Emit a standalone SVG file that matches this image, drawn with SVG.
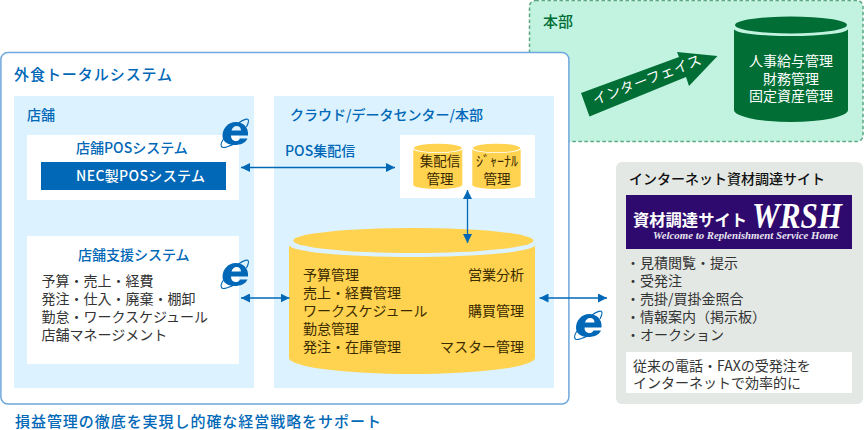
<svg xmlns="http://www.w3.org/2000/svg" width="864" height="430" viewBox="0 0 864 430">
<style>
text{font-family:"Noto Sans CJK JP","Noto Sans",sans-serif;font-size:14px;fill:#333}
.h{font-weight:500;fill:#0068b7}
.t{font-size:15px;letter-spacing:.95px}
.y{fill:#ffd24f}
.d{fill:#3a2a00}
.sm{font-size:13.5px}
.w{fill:#fff}
line{stroke:#0068b7;stroke-width:1.3}
</style>
<defs>
<marker id="a" viewBox="0 0 9 9" refX="9" refY="4.5" markerUnits="userSpaceOnUse" markerWidth="9" markerHeight="9" orient="auto-start-reverse"><path d="M0 0L9 4.5L0 9Z" fill="#0068b7"/></marker>
<g id="ie">
<path fill="#0068b7" fill-rule="evenodd" d="M27.5 17.5C28.5 9 22 4 15.5 4C7 4 2 11 2 18C2 24 8 27 14 27C20 27 25 25 27 20.5H19.5C18.5 22.5 17 23 15.5 23C12 23 10.5 20.5 10.5 17.5ZM11 12.5C12 9.5 13.5 8 16 8C19 8 20.5 10 20.5 12.5Z"/>
<path fill="none" stroke="#0068b7" stroke-width="1.1" d="M3 21C-1 27 0 31 6 29C9 28 12 27 14 25.5M18 5C23 1.5 28 -0.5 28 3C28 5 27 7 26 9"/>
</g>
</defs>

<g id="hq">
<rect x="529.5" y="0.5" width="333.5" height="141" rx="6" fill="#c2f3e1" stroke="#5ba882" stroke-width="1.5" stroke-dasharray="3.5 2.5"/>
<text x="543" y="27" style="fill:#006e35;font-weight:500;font-size:15px">本部</text>
<path fill="#006e35" d="M581 93L679 57L677 52L717.5 56L689 86L686 77L589.5 116.5Z"/>
<text class="w" transform="translate(595 105) rotate(-21)" style="letter-spacing:.6px">インターフェイス</text>
<path fill="#006e35" d="M734 29A57 7 0 0 0 848 29V110A57 12 0 0 1 734 110Z"/>
<ellipse cx="791" cy="25" rx="56" ry="8.5" fill="#006e35"/>
<text class="w" text-anchor="middle" x="791" y="65.5">人事給与管理</text>
<text class="w" text-anchor="middle" x="791" y="83.5">財務管理</text>
<text class="w" text-anchor="middle" x="791" y="101">固定資産管理</text>
</g>

<g id="total">
<rect x="0.9" y="52.5" width="568" height="351.5" rx="7" fill="#fff" stroke="#6ea8dc" stroke-width="1.5"/>
<text class="h t" x="14" y="80">外食トータルシステム</text>
<text class="h t" x="15" y="427">損益管理の徹底を実現し的確な経営戦略をサポート</text>
</g>

<g id="store">
<rect x="14" y="96" width="240" height="292" fill="#dcf2fe"/>
<text class="h" x="27" y="120">店舗</text>
</g>
<g id="pos">
<rect x="27" y="135" width="212" height="65" fill="#fff"/>
<text class="h" x="76" y="153">店舗POSシステム</text>
<rect x="41" y="162" width="185" height="28" fill="#0068b7"/>
<text class="w" x="76" y="181" style="font-weight:500;letter-spacing:.35px">NEC製POSシステム</text>
</g>
<g id="support">
<rect x="27" y="236" width="212" height="128" fill="#fff"/>
<text class="h" x="78" y="260">店舗支援システム</text>
<text x="41.5" y="286">予算・売上・経費</text>
<text x="41.5" y="304">発注・仕入・廃棄・棚卸</text>
<text x="41.5" y="322">勤怠・ワークスケジュール</text>
<text x="41.5" y="340">店舗マネージメント</text>
</g>
<g id="cloud">
<rect x="274" y="96" width="280" height="292" fill="#dcf2fe"/>
<text class="h" x="290" y="120">クラウド/データセンター/本部</text>
<text class="h" x="285" y="156">POS集配信</text>
</g>
<g id="small">
<rect x="400" y="135" width="135" height="63" fill="#fff"/>
<path class="y" d="M413.3 149A24.5 4 0 0 0 462.3 149V185A24.5 4 0 0 1 413.3 185Z"/>
<ellipse class="y" cx="437.8" cy="148" rx="24" ry="4.2"/>
<text class="d sm" text-anchor="middle" x="440" y="166">集配信</text>
<text class="d sm" text-anchor="middle" x="440" y="184">管理</text>
<path class="y" d="M472.3 149A24.2 4 0 0 0 520.7 149V185A24.2 4 0 0 1 472.3 185Z"/>
<ellipse class="y" cx="496.5" cy="148" rx="23.7" ry="4.2"/>
<text class="d" text-anchor="middle" x="497" y="166">ｼﾞｬｰﾅﾙ</text>
<text class="d sm" text-anchor="middle" x="497" y="184">管理</text>
</g>
<g id="db">
<path class="y" d="M289 245A123 12 0 0 0 535 245V358A123 16 0 0 1 289 358Z"/>
<ellipse class="y" cx="413.3" cy="240.5" rx="120" ry="12.5"/>
<text class="d" x="303" y="280">予算管理</text>
<text class="d" x="303" y="298">売上・経費管理</text>
<text class="d" x="303" y="316">ワークスケジュール</text>
<text class="d" x="303" y="334">勤怠管理</text>
<text class="d" x="303" y="352">発注・在庫管理</text>
<text class="d" text-anchor="end" x="524" y="280">営業分析</text>
<text class="d" text-anchor="end" x="524" y="316">購買管理</text>
<text class="d" text-anchor="end" x="524" y="352">マスター管理</text>
</g>
<g id="site">
<rect x="616" y="162" width="247" height="242" rx="6" fill="#e3e8e4"/>
<text x="629" y="184" style="fill:#111;font-weight:500">インターネット資材調達サイト</text>
<rect x="626" y="195" width="226" height="54" fill="#2e0a6e"/>
<text class="w" x="633" y="226" style="font-weight:700;font-size:16.3px">資材調達サイト</text>
<text class="w" x="752" y="228" textLength="90" lengthAdjust="spacingAndGlyphs" style="font-family:'Liberation Serif',serif;font-weight:700;font-style:italic;font-size:35px">WRSH</text>
<text x="653" y="238.5" textLength="185" lengthAdjust="spacingAndGlyphs" style="fill:#e8e4f0;font-family:'Liberation Serif',serif;font-weight:700;font-style:italic;font-size:11px">Welcome to Replenishment Service Home</text>
<text x="626" y="268">・見積閲覧・提示</text>
<text x="626" y="286">・受発注</text>
<text x="626" y="304">・売掛/買掛金照合</text>
<text x="626" y="322">・情報案内（掲示板）</text>
<text x="626" y="340">・オークション</text>
<rect x="626" y="352" width="226" height="41" fill="#fff"/>
<text x="633" y="371">従来の電話・FAXの受発注を</text>
<text x="633" y="388">インターネットで効率的に</text>
</g>
<g id="connectors">
<line x1="241" y1="167.5" x2="395" y2="167.5" marker-start="url(#a)" marker-end="url(#a)"/>
<line x1="467.5" y1="190" x2="467.5" y2="243" marker-start="url(#a)" marker-end="url(#a)"/>
<line x1="241" y1="298" x2="289.5" y2="298" marker-start="url(#a)" marker-end="url(#a)"/>
<line x1="539.5" y1="298" x2="607" y2="298" marker-start="url(#a)" marker-end="url(#a)"/>
</g>
<g id="icons">
<use href="#ie" x="220.5" y="118"/>
<use href="#ie" x="220.5" y="259"/>
<use href="#ie" x="574" y="310"/>
</g>
</svg>
